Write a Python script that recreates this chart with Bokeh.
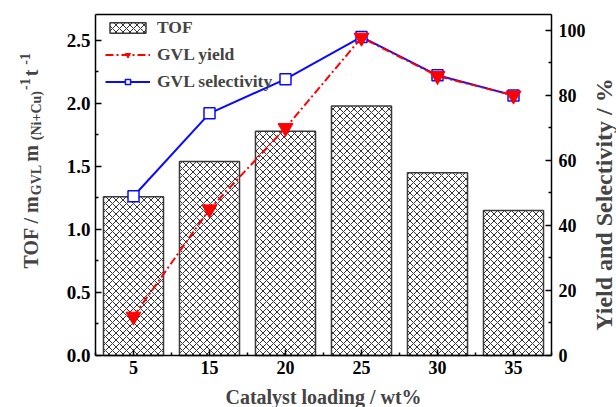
import math
from bokeh.plotting import figure
from bokeh.models import (Range1d, LinearAxis, FixedTicker, NumeralTickFormatter, Label,
                          Legend, LegendItem, ColumnDataSource)
from bokeh.embed import file_html
from bokeh.resources import INLINE

# ---- data ----
categories = ["5", "15", "20", "25", "30", "35"]
tof = [1.26, 1.54, 1.78, 1.98, 1.45, 1.15]
gvl_yield = [12.0, 45.0, 70.0, 97.8, 86.0, 80.0]
gvl_selectivity = [49.0, 74.5, 85.0, 98.0, 86.2, 80.0]

tof_ticks = [0.0, 0.5, 1.0, 1.5, 2.0, 2.5]
pct_ticks = [0, 20, 40, 60, 80, 100]
TOF_MAX = 2.706
PCT_MAX = 104.9

x_label = "Catalyst loading / wt%"
y2_label = "Yield and Selectivity / %"

# ---- layout (pixels) ----
W, H = 616, 407
FL, FR, FT, FB = 95, 65, 14, 52
FW = W - FL - FR
FH = H - FT - FB
FONT = "Liberation Serif"
n = len(categories)

px_x = FW / n
px_y = FH / TOF_MAX
px_p = FH / PCT_MAX

xs = [i + 0.5 for i in range(n)]
src = ColumnDataSource(dict(x=xs, tof=tof, y=gvl_yield, s=gvl_selectivity))

p = figure(width=W, height=H, output_backend="svg", toolbar_location=None, title=None,
           x_range=Range1d(-FL / px_x, n + FR / px_x),
           y_range=Range1d(-FB / px_y, TOF_MAX + FT / px_y),
           min_border_left=0, min_border_right=0, min_border_top=0, min_border_bottom=0,
           x_axis_location=None, y_axis_location=None)
p.extra_y_ranges = {"pct": Range1d(-FB / px_p, PCT_MAX + FT / px_p)}
p.xgrid.visible = False
p.ygrid.visible = False
p.outline_line_color = None
p.background_fill_color = "white"
p.border_fill_color = "white"


def style_axis(ax):
    ax.axis_line_color = "black"
    ax.axis_line_width = 1.5
    ax.major_tick_in = 6
    ax.major_tick_out = 0
    ax.minor_tick_in = 3
    ax.minor_tick_out = 0
    ax.major_tick_line_color = "black"
    ax.major_tick_line_width = 1.5
    ax.minor_tick_line_color = "black"
    ax.minor_tick_line_width = 1.5
    ax.major_label_text_font = FONT
    ax.major_label_text_font_size = "18px"
    ax.major_label_text_font_style = "bold"
    ax.major_label_text_color = "black"


def mids(t):
    return [(a + b) / 2 for a, b in zip(t[:-1], t[1:])]


xaxis = LinearAxis(fixed_location=0, bounds=(0, n),
                   ticker=FixedTicker(ticks=xs, minor_ticks=list(range(n + 1))),
                   major_label_overrides={x: c for x, c in zip(xs, categories)})
style_axis(xaxis)
xaxis.major_label_standoff = 5
p.add_layout(xaxis, "below")

yaxis = LinearAxis(fixed_location=0, bounds=(0, TOF_MAX),
                   ticker=FixedTicker(ticks=tof_ticks, minor_ticks=mids(tof_ticks)),
                   formatter=NumeralTickFormatter(format="0.0"))
style_axis(yaxis)
yaxis.major_label_standoff = 5
yaxis.major_label_text_font_size = "19px"
p.add_layout(yaxis, "left")

y2axis = LinearAxis(y_range_name="pct", fixed_location=n, bounds=(0, PCT_MAX),
                    ticker=FixedTicker(ticks=pct_ticks, minor_ticks=mids(pct_ticks)))
style_axis(y2axis)
y2axis.major_label_standoff = 7
p.add_layout(y2axis, "right")

topaxis = LinearAxis(fixed_location=TOF_MAX, bounds=(0, n), ticker=FixedTicker(ticks=[]))
style_axis(topaxis)
topaxis.major_label_text_font_size = "0px"
p.add_layout(topaxis, "above")

# ---- glyphs ----
bars = p.vbar(x="x", top="tof", width=0.79, source=src, fill_color="white",
              line_color="#3a3a3a", line_width=1.5, hatch_pattern="x",
              hatch_color="#333333", hatch_scale=7, hatch_weight=1)

sel_line = p.line("x", "s", source=src, y_range_name="pct", line_color="#0a0aff", line_width=2)
sel_mark = p.scatter("x", "s", source=src, y_range_name="pct", marker="square", size=11,
                     fill_color="white", line_color="#0a0aff", line_width=1.5)
yld_line = p.line("x", "y", source=src, y_range_name="pct", line_color="#ff0000", line_width=2,
                  line_dash="8 3 2 3")
yld_mark = p.scatter("x", "y", source=src, y_range_name="pct", marker="inverted_triangle", size=15,
                     fill_color="#ff0000", line_color="#ff0000")

LEG_H = 3 * 20 + 2 * 7
legend = Legend(items=[LegendItem(label="TOF", renderers=[bars]),
                       LegendItem(label="GVL yield", renderers=[yld_line, yld_mark]),
                       LegendItem(label="GVL selectivity", renderers=[sel_line, sel_mark])],
                location=(FL + 10, H - FT - LEG_H - 4), margin=0, padding=0, spacing=6,
                glyph_width=45, glyph_height=13, label_height=20, label_standoff=7,
                label_text_font=FONT, label_text_font_size="17.5px", label_text_font_style="bold",
                background_fill_alpha=0, border_line_alpha=0)
p.add_layout(legend)

# ---- axis titles as text annotations (screen px, origin bottom-left of canvas) ----
p.add_layout(Label(x=FL + FW / 2, y=11, x_units="screen", y_units="screen", text=x_label,
                   text_align="center", text_baseline="middle", text_font=FONT,
                   text_font_size="20px", text_font_style="bold"))
p.add_layout(Label(x=W - 13, y=H - 204, x_units="screen", y_units="screen", text=y2_label,
                   angle=math.pi / 2, text_align="center", text_baseline="middle", text_font=FONT,
                   text_font_size="24px", text_font_style="bold"))

# left composite title: TOF / m_GVL m_(Ni+Cu)^-1 t^-1
tw = {"T": 667, "O": 778, "F": 611, " ": 250, "/": 278, "m": 833, "G": 778, "V": 722,
      "L": 667, "(": 333, "N": 722, "i": 278, "+": 570, "C": 722, "u": 556, ")": 333,
      "-": 333, "1": 500, "t": 333}
pieces = [("TOF / m", 20, 0, 0), ("GVL", 14, 6, 3), (" m", 20, 0, 0), ("(Ni+Cu)", 14, 6, 1),
          ("-1", 14, -6, 2), (" t", 20, 0, 0), ("-1", 14, -6, 0)]
pos = 139.0
base_x = 30
for txt, fs, shift, gap in pieces:
    p.add_layout(Label(x=base_x + shift, y=pos, x_units="screen", y_units="screen", text=txt,
                       angle=math.pi / 2, text_align="left", text_baseline="alphabetic",
                       text_font=FONT, text_font_size=f"{fs}px", text_font_style="bold"))
    pos += sum(tw[c] for c in txt) / 1000 * fs + gap

open("out.html", "w").write(file_html(p, INLINE))
